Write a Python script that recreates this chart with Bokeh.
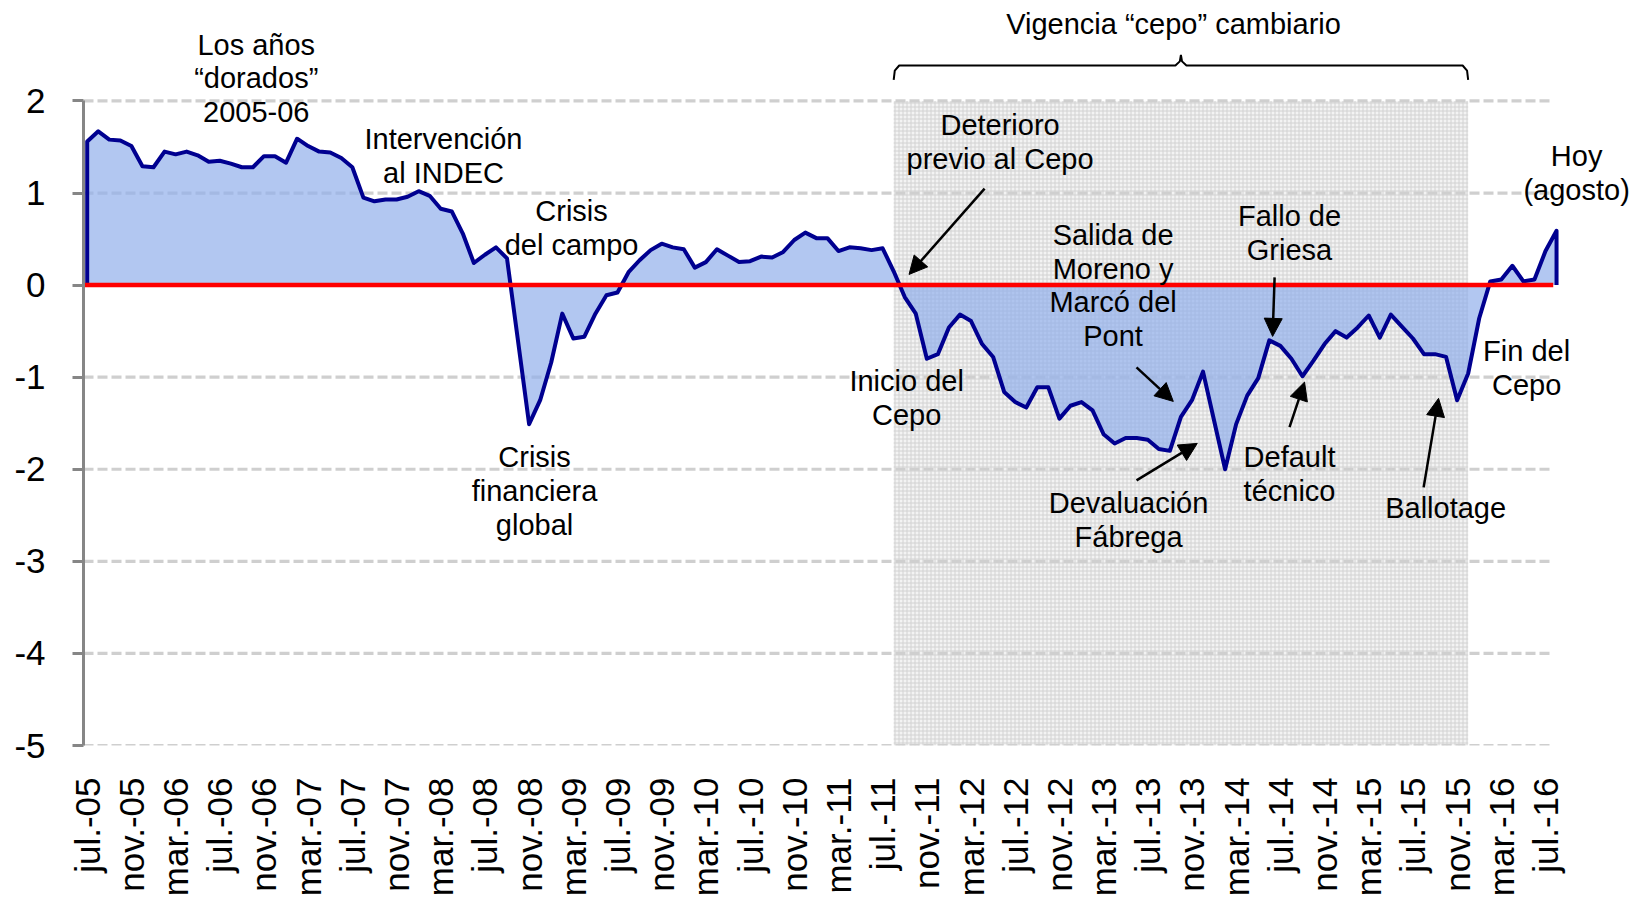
import math
from bokeh.plotting import figure
from bokeh.models import FixedTicker, Range1d, Arrow, NormalHead
from bokeh.core.properties import value
from bokeh.embed import file_html
from bokeh.resources import INLINE

# ---------------- data ----------------
tick_labels = ["jul.-05", "nov.-05", "mar.-06", "jul.-06", "nov.-06", "mar.-07",
               "jul.-07", "nov.-07", "mar.-08", "jul.-08", "nov.-08", "mar.-09",
               "jul.-09", "nov.-09", "mar.-10", "jul.-10", "nov.-10", "mar.-11",
               "jul.-11", "nov.-11", "mar.-12", "jul.-12", "nov.-12", "mar.-13",
               "jul.-13", "nov.-13", "mar.-14", "jul.-14", "nov.-14", "mar.-15",
               "jul.-15", "nov.-15", "mar.-16", "jul.-16"]

# monthly series, jul-05 ... aug-16
values = [1.56, 1.67, 1.58, 1.57, 1.51, 1.29, 1.28, 1.45, 1.42, 1.45,
          1.41, 1.34, 1.35, 1.32, 1.28, 1.28, 1.40, 1.40, 1.33, 1.59,
          1.51, 1.45, 1.44, 1.38, 1.28, 0.95, 0.91, 0.93, 0.93, 0.96,
          1.02, 0.97, 0.83, 0.80, 0.56, 0.24, 0.33, 0.41, 0.29, -0.61,
          -1.51, -1.25, -0.84, -0.31, -0.58, -0.56, -0.31, -0.11, -0.08, 0.14,
          0.27, 0.38, 0.45, 0.41, 0.39, 0.19, 0.25, 0.39, 0.32, 0.25,
          0.26, 0.31, 0.30, 0.36, 0.49, 0.57, 0.51, 0.51, 0.37, 0.41,
          0.40, 0.38, 0.40, 0.15, -0.13, -0.31, -0.80, -0.75, -0.46, -0.32,
          -0.39, -0.64, -0.78, -1.16, -1.27, -1.33, -1.11, -1.11, -1.45, -1.31,
          -1.27, -1.36, -1.62, -1.72, -1.66, -1.66, -1.68, -1.78, -1.80, -1.43,
          -1.25, -0.94, -1.47, -2.00, -1.51, -1.20, -1.01, -0.60, -0.66, -0.80,
          -0.99, -0.82, -0.64, -0.50, -0.57, -0.46, -0.33, -0.57, -0.32, -0.45,
          -0.58, -0.75, -0.75, -0.78, -1.25, -0.96, -0.36, 0.04, 0.06, 0.21,
          0.04, 0.06, 0.37, 0.59]

y_ticks = [-5, -4, -3, -2, -1, 0, 1, 2]
y_tick_labels = ["-5", "-4", "-3", "-2", "-1", "0", "1", "2"]
cepo_start, cepo_end = 73, 125   # month index of the "cepo" period

# annotation texts (lines, x, y of first line) in data units
annotations = [
    (["Los años", "\u201cdorados\u201d", "2005-06"], 15.3, 2.613),
    (["Intervención", "al INDEC"], 32.25, 1.582),
    (["Crisis", "del campo"], 43.84, 0.800),
    (["Crisis", "financiera", "global"], 40.49, -1.871),
    (["Deterioro", "previo al Cepo"], 82.63, 1.739),
    (["Inicio del", "Cepo"], 74.17, -1.045),
    (["Salida de", "Moreno y", "Marcó del", "Pont"], 92.86, 0.545),
    (["Devaluación", "Fábrega"], 94.26, -2.370),
    (["Fallo de", "Griesa"], 108.83, 0.750),
    (["Default", "técnico"], 108.83, -1.871),
    (["Ballotage"], 122.96, -2.420),
    (["Fin del", "Cepo"], 130.29, -0.716),
    (["Hoy", "(agosto)"], 134.82, 1.397),
    (["Vigencia \u201ccepo\u201d cambiario"], 98.33, 2.841),
]
line_step = 0.366

# arrows (x_start, y_start, x_end, y_end)
arrows = [
    (81.23, 1.048, 74.39, 0.116),
    (94.98, -0.894, 98.31, -1.263),
    (94.98, -2.121, 100.48, -1.719),
    (108.83, -1.542, 110.19, -1.053),
    (107.48, 0.084, 107.30, -0.557),
    (120.97, -2.197, 122.32, -1.230),
]

FONT = "Liberation Sans"

# ---------------- figure ----------------
x_start, x_end = -0.335, 140.69
p = figure(width=1641, height=904, output_backend="svg", toolbar_location=None,
           x_range=Range1d(x_start, x_end), y_range=Range1d(-5, 3.091),
           min_border_left=83, min_border_right=0, min_border_top=0,
           min_border_bottom=159)
p.outline_line_color = None
p.xgrid.visible = False
p.ygrid.visible = False
p.background_fill_color = "white"
p.border_fill_color = "white"

x = list(range(len(values)))
x_last_grid = 132.7

# cepo shaded region
p.quad(left=[cepo_start], right=[cepo_end], bottom=[y_ticks[0]], top=[y_ticks[-1]],
       fill_color="#f3f3f3", line_color=None, hatch_pattern="+",
       hatch_color="#d2d2d2", hatch_scale=4, hatch_weight=1)

# gridlines
gy = [t for t in y_ticks if t != 0]
p.segment(x0=[x_start] * len(gy), x1=[x_last_grid] * len(gy), y0=gy, y1=gy,
          line_color="#cfcfcf", line_width=3.2, line_dash="10 4")

# area
ax = [x[0]] + x + [x[-1]]
ay = [0] + values + [0]
p.patch(ax, ay, fill_color="#92afeb", fill_alpha=0.7, line_color=None)
p.line(ax, ay, line_color="#000090", line_width=4, line_join="round")

# zero line
p.segment(x0=[x_start], x1=[x_last_grid], y0=[0], y1=[0], line_color="#ff0000", line_width=4.5)

# brace for cepo period
mid = (cepo_start + cepo_end) / 2
bx = [cepo_start, cepo_start + 0.1, cepo_start + 0.5, mid - 0.5, mid - 0.1, mid,
      mid + 0.1, mid + 0.5, cepo_end - 0.5, cepo_end - 0.1, cepo_end]
by = [2.228, 2.33, 2.385, 2.385, 2.43, 2.50, 2.43, 2.385, 2.385, 2.33, 2.228]
p.line(bx, by, line_color="black", line_width=2)

# arrows
for x0, y0, x1, y1 in arrows:
    p.add_layout(Arrow(x_start=x0, y_start=y0, x_end=x1, y_end=y1,
                       line_color="black", line_width=2.5,
                       end=NormalHead(size=18, fill_color="black", line_color="black")))

# annotation texts
tx, ty, tt = [], [], []
for lines, ax0, ay0 in annotations:
    for k, s in enumerate(lines):
        tx.append(ax0)
        ty.append(ay0 - k * line_step)
        tt.append(s)
p.text(x=tx, y=ty, text=tt, text_font=value(FONT), text_font_size="29px",
       text_align="center", text_baseline="middle", text_color="black")

# axes
p.yaxis.ticker = FixedTicker(ticks=y_ticks)
p.yaxis.major_label_overrides = {t: l for t, l in zip(y_ticks, y_tick_labels)}
p.yaxis.bounds = (y_ticks[0], y_ticks[-1])
p.yaxis.axis_line_color = "#868686"
p.yaxis.axis_line_width = 3
p.yaxis.major_tick_line_color = "#868686"
p.yaxis.major_tick_line_width = 3
p.yaxis.major_tick_out = 11
p.yaxis.major_tick_in = 0
p.yaxis.minor_tick_line_color = None
p.yaxis.major_label_text_font = FONT
p.yaxis.major_label_text_font_size = "35px"
p.yaxis.major_label_text_color = "black"
p.yaxis.major_label_standoff = 27

xt = list(range(0, 4 * len(tick_labels), 4))
p.xaxis.ticker = FixedTicker(ticks=xt)
p.xaxis.major_label_overrides = {t: l for t, l in zip(xt, tick_labels)}
p.xaxis.axis_line_color = None
p.xaxis.major_tick_line_color = None
p.xaxis.minor_tick_line_color = None
p.xaxis.major_label_orientation = math.pi / 2
p.xaxis.major_label_text_font = FONT
p.xaxis.major_label_text_font_size = "35px"
p.xaxis.major_label_text_color = "black"
p.xaxis.major_label_standoff = 26

open("out.html", "w").write(file_html(p, INLINE))
